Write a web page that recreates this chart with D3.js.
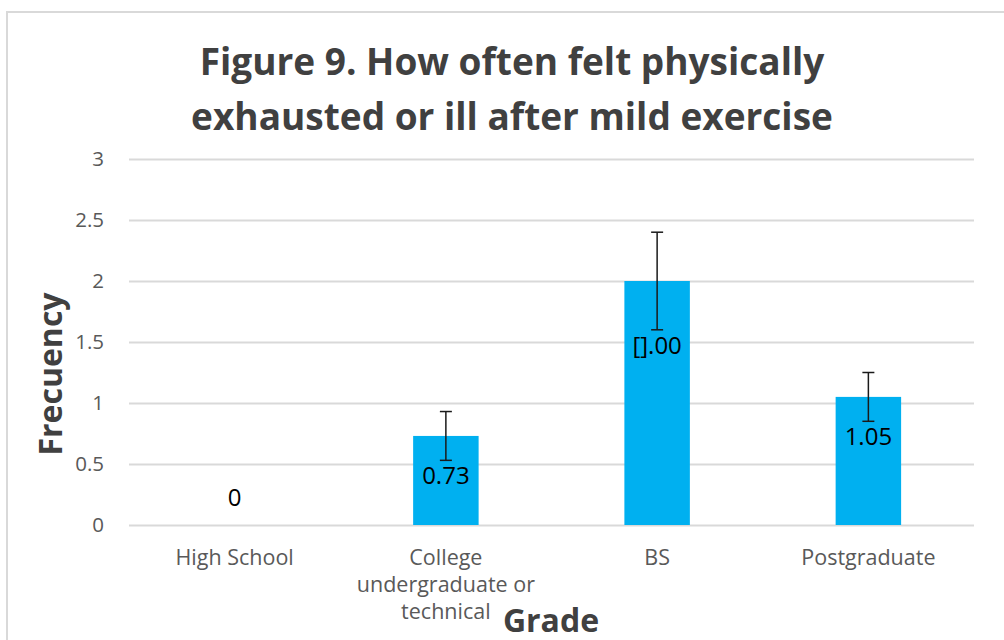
<!DOCTYPE html>
<html>
<head>
<meta charset="utf-8">
<script src="https://d3js.org/d3.v7.min.js"></script>
<style>
  body { margin: 0; background: #fff; }
  text { font-family: 'Open Sans', sans-serif; }
  .grid line { stroke: #d9d9d9; stroke-width: 2px; }
</style>
</head>
<body>
<svg id="chart" width="1004" height="640"></svg>
<script>
// data
const categories = ["High School", "College undergraduate or technical", "BS", "Postgraduate"];
const catLines = [["High School"], ["College", "undergraduate or", "technical"], ["BS"], ["Postgraduate"]];
const values = [0, 0.73, 2.0, 1.05];
const errors = [0, 0.2, 0.4, 0.2];
const labels = ["0", "0.73", "[].00", "1.05"];
const yTicks = [0, 0.5, 1, 1.5, 2, 2.5, 3];

const svg = d3.select("#chart");
const margin = { top: 159, right: 30, bottom: 115, left: 129 };
const W = 974 - margin.left;
const H = 525 - margin.top;

// chart border
svg.append("rect")
   .attr("x", 7).attr("y", 12)
   .attr("width", 1010).attr("height", 640)
   .attr("fill", "#fff")
   .attr("stroke", "#d9d9d9").attr("stroke-width", 2);

const g = svg.append("g").attr("transform", `translate(${margin.left},${margin.top})`);

const x = d3.scaleBand().domain(categories).range([0, W]).paddingInner(0.69).paddingOuter(0.345);
const y = d3.scaleLinear().domain([0, 3]).range([H, 0]);

// gridlines
g.append("g").attr("class", "grid")
  .call(d3.axisLeft(y).tickValues(yTicks).tickSize(-W).tickFormat(""))
  .call(a => a.select(".domain").remove());

// y tick labels
g.append("g")
  .call(d3.axisLeft(y).tickValues(yTicks).tickSize(0).tickPadding(25).tickFormat(d3.format("")))
  .call(a => a.select(".domain").remove())
  .selectAll("text")
  .attr("font-size", 20.5).attr("fill", "#595959")
  .style("font-family", "'Open Sans', sans-serif");

// bars
g.selectAll("rect.bar").data(values)
  .join("rect").attr("class", "bar")
  .attr("x", (d, i) => x(categories[i]))
  .attr("y", d => y(d))
  .attr("width", x.bandwidth())
  .attr("height", d => H - y(d))
  .attr("fill", "#00b0f0");

// error bars
const eb = g.selectAll("g.err").data(values)
  .join("g").attr("class", "err")
  .attr("transform", (d, i) => `translate(${x(categories[i]) + x.bandwidth() / 2},0)`);
eb.filter((d, i) => errors[i] > 0).each(function (d) {
  const e = errors[values.indexOf(d)];
  const s = d3.select(this);
  s.append("line").attr("x1", 0).attr("x2", 0).attr("y1", y(d + e)).attr("y2", y(d - e));
  s.append("line").attr("x1", -6).attr("x2", 6).attr("y1", y(d + e)).attr("y2", y(d + e));
  s.append("line").attr("x1", -6).attr("x2", 6).attr("y1", y(d - e)).attr("y2", y(d - e));
});
eb.selectAll("line").attr("stroke", "#1a1a1a").attr("stroke-width", 1.5);

// data labels
g.selectAll("text.lbl").data(values)
  .join("text").attr("class", "lbl")
  .attr("x", (d, i) => x(categories[i]) + x.bandwidth() / 2)
  .attr("y", (d, i) => d === 0 ? y(0) - 19 : y(d - errors[i]) + 24)
  .attr("text-anchor", "middle")
  .attr("font-size", 24).attr("fill", "#000")
  .text((d, i) => labels[i]);

// category labels
const xl = g.selectAll("text.cat").data(catLines)
  .join("text").attr("class", "cat")
  .attr("x", (d, i) => x(categories[i]) + x.bandwidth() / 2)
  .attr("y", H + 40)
  .attr("text-anchor", "middle")
  .attr("font-size", 21.5).attr("fill", "#595959");
xl.selectAll("tspan").data(d => d)
  .join("tspan")
  .attr("x", function () { return d3.select(this.parentNode).attr("x"); })
  .attr("dy", (d, i) => i === 0 ? 0 : 27)
  .text(d => d);

// title
const title = svg.append("text")
  .attr("text-anchor", "middle")
  .attr("font-size", 37).attr("font-weight", "bold").attr("fill", "#404040");
title.append("tspan").attr("x", 512).attr("y", 75).text("Figure 9. How often felt physically");
title.append("tspan").attr("x", 512).attr("y", 130).text("exhausted or ill after mild exercise");

// axis titles
svg.append("text")
  .attr("transform", "translate(62,374) rotate(-90)")
  .attr("text-anchor", "middle")
  .attr("font-size", 32).attr("font-weight", "bold").attr("fill", "#404040")
  .text("Frecuency");

svg.append("text")
  .attr("x", 551).attr("y", 632)
  .attr("text-anchor", "middle")
  .attr("font-size", 32).attr("font-weight", "bold").attr("fill", "#404040")
  .text("Grade");
</script>
</body>
</html>
